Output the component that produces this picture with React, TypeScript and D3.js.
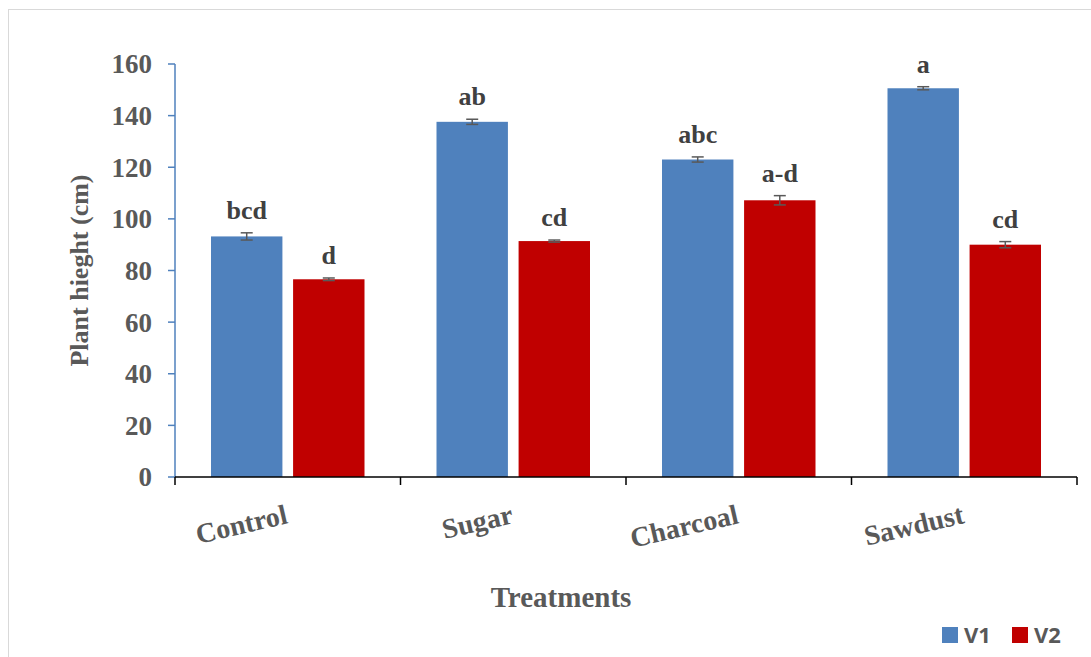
import React from 'react';
import * as d3 from 'd3';

const categories = ['Control', 'Sugar', 'Charcoal', 'Sawdust'];
const seriesNames = ['V1', 'V2'];
const v1Values = [93.2, 137.6, 123.0, 150.6];
const v2Values = [76.6, 91.4, 107.2, 90.0];
const v1Errors = [1.4, 1.0, 1.0, 0.6];
const v2Errors = [0.5, 0.4, 1.8, 1.2];
const v1Letters = ['bcd', 'ab', 'abc', 'a'];
const v2Letters = ['d', 'cd', 'a-d', 'cd'];
const yTicks = [0, 20, 40, 60, 80, 100, 120, 140, 160];

const colors = ['#4f81bd', '#c00000'];
const serif = '"Liberation Serif", "Times New Roman", serif';

const App = () => {
  const width = 1091;
  const height = 657;
  const margin = { top: 64, right: 14, bottom: 180, left: 175 };
  const plotBottom = height - margin.bottom;

  const x = d3.scaleBand()
    .domain(categories)
    .range([margin.left, width - margin.right])
    .paddingInner(0)
    .paddingOuter(0);

  const inner = d3.scaleBand()
    .domain(seriesNames)
    .range([36, x.bandwidth() - 36])
    .paddingInner(0.13);

  const y = d3.scaleLinear().domain([0, 160]).range([plotBottom, margin.top]);

  const series = [
    { name: 'V1', values: v1Values, errors: v1Errors, letters: v1Letters },
    { name: 'V2', values: v2Values, errors: v2Errors, letters: v2Letters },
  ];

  return (
    <svg width={width} height={height} style={{ position: 'absolute', left: 0, top: 0 }}>
      <rect x={0} y={0} width={width} height={height} fill="#fff" />
      <rect x={8.5} y={9.5} width={width} height={height} fill="none" stroke="#d9d9d9" />

      {/* bars */}
      {series.map((s, si) => (
        <g key={s.name}>
          {categories.map((c, i) => {
            const bx = (x(c) as number) + (inner(s.name) as number);
            const bw = inner.bandwidth();
            const cx = bx + bw / 2;
            const v = s.values[i];
            const e = s.errors[i];
            return (
              <g key={c}>
                <rect x={bx} y={y(v)} width={bw} height={plotBottom - y(v)} fill={colors[si]} />
                <line x1={cx} x2={cx} y1={y(v + e)} y2={y(v - e)} stroke="#595959" strokeWidth={1.5} />
                <line x1={cx - 6} x2={cx + 6} y1={y(v + e)} y2={y(v + e)} stroke="#595959" strokeWidth={1.5} />
                <line x1={cx - 6} x2={cx + 6} y1={y(v - e)} y2={y(v - e)} stroke="#595959" strokeWidth={1.5} />
                <text x={cx} y={y(v + e) - 14} textAnchor="middle" fontFamily={serif} fontWeight="bold"
                  fontSize={26} fill="#404040">{s.letters[i]}</text>
              </g>
            );
          })}
        </g>
      ))}

      {/* y axis */}
      <line x1={margin.left} x2={margin.left} y1={margin.top} y2={plotBottom} stroke="#4f81bd" strokeWidth={1.5} />
      {yTicks.map(t => (
        <g key={t}>
          <line x1={margin.left - 7} x2={margin.left} y1={y(t)} y2={y(t)} stroke="#4f81bd" strokeWidth={1.5} />
          <text x={margin.left - 23} y={y(t)} dy="0.35em" textAnchor="end" fontFamily={serif}
            fontWeight="bold" fontSize={27} fill="#595959">{t}</text>
        </g>
      ))}

      {/* x axis */}
      <line x1={margin.left} x2={width - margin.right} y1={plotBottom} y2={plotBottom} stroke="#000" strokeWidth={1.5} />
      {categories.map(c => (
        <line key={c} x1={x(c)} x2={x(c)} y1={plotBottom} y2={plotBottom + 8} stroke="#000" strokeWidth={1.5} />
      ))}
      <line x1={width - margin.right} x2={width - margin.right} y1={plotBottom} y2={plotBottom + 8} stroke="#000" strokeWidth={1.5} />
      {categories.map(c => {
        const cx = (x(c) as number) + x.bandwidth() / 2 + 1;
        const cy = plotBottom + 46;
        return (
          <text key={c} x={cx} y={cy} textAnchor="end" fontFamily={serif} fontWeight="bold"
            fontSize={28} fill="#595959" transform={`rotate(-13, ${cx}, ${cy})`}>{c}</text>
        );
      })}

      {/* axis titles */}
      <text x={561} y={607} textAnchor="middle" fontFamily={serif} fontWeight="bold" fontSize={29}
        fill="#595959">Treatments</text>
      <text transform={`translate(88, ${(margin.top + plotBottom) / 2}) rotate(-90)`} textAnchor="middle"
        fontFamily={serif} fontWeight="bold" fontSize={26} fill="#595959">Plant hieght (cm)</text>

      {/* legend */}
      {seriesNames.map((n, i) => (
        <g key={n} transform={`translate(942, 627)`}>
          <rect x={i * 70} y={0} width={16} height={16} fill={colors[i]} />
          <text x={i * 70 + 22} y={16} fontFamily='"Open Sans", "Liberation Sans", sans-serif' fontWeight="bold"
            fontSize={22} fill="#595959">{n}</text>
        </g>
      ))}
    </svg>
  );
};

export default App;
